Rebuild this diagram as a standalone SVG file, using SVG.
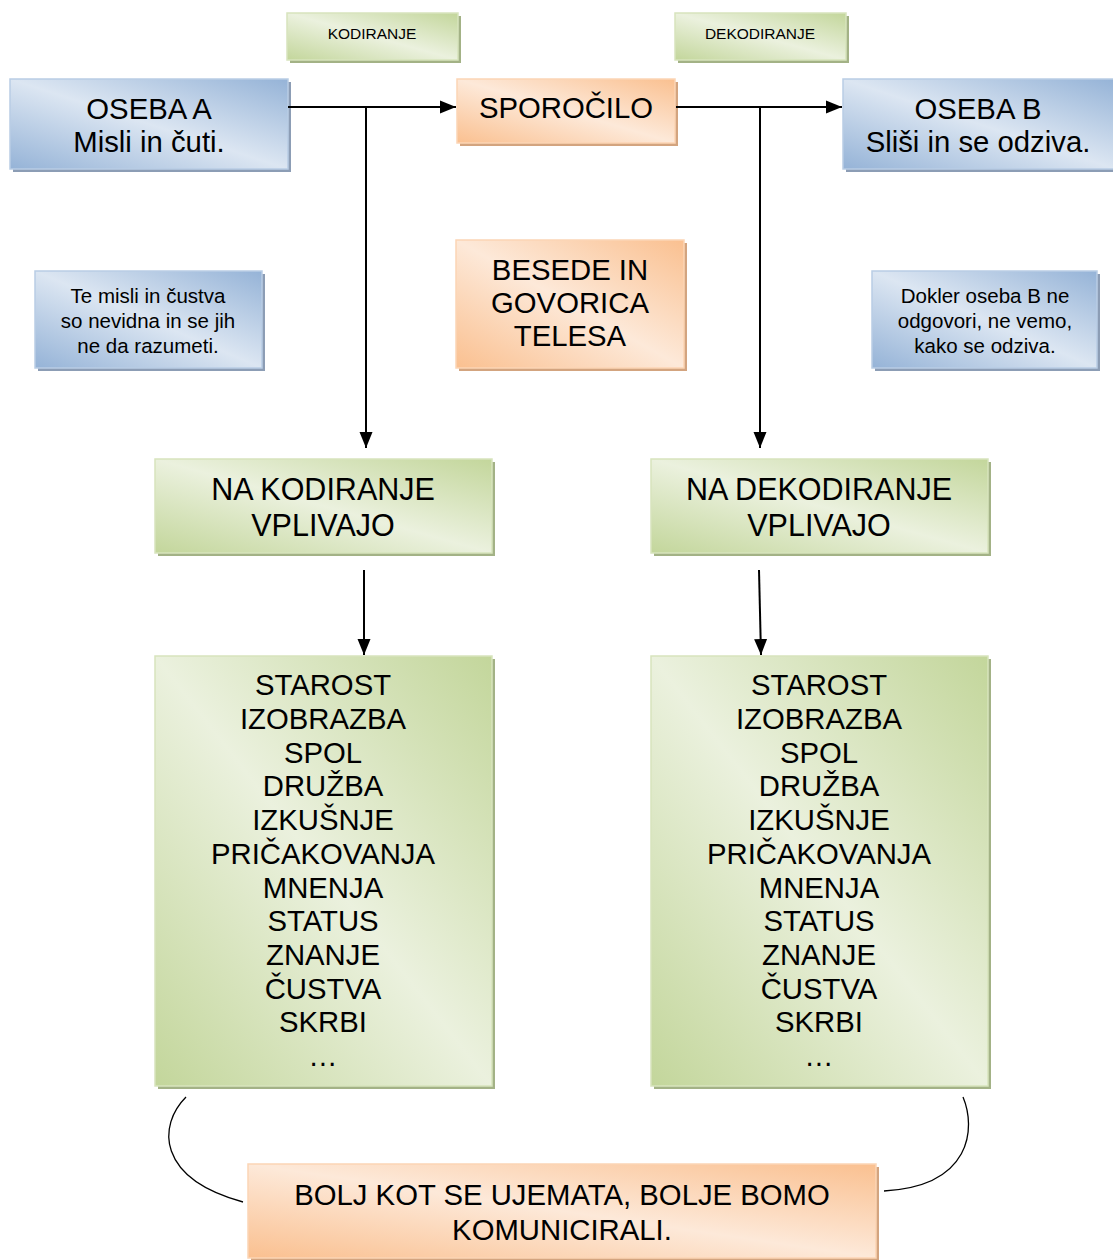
<svg xmlns="http://www.w3.org/2000/svg" width="1113" height="1260" viewBox="0 0 1113 1260">
<defs>
<linearGradient id="gBlue" x1="0" y1="1" x2="1" y2="0">
<stop offset="0" stop-color="#95b3d7"/><stop offset="0.5" stop-color="#dce6f2"/><stop offset="1" stop-color="#95b3d7"/>
</linearGradient>
<linearGradient id="gGreen" x1="0" y1="1" x2="1" y2="0">
<stop offset="0" stop-color="#c3d69b"/><stop offset="0.5" stop-color="#ebf1de"/><stop offset="1" stop-color="#c3d69b"/>
</linearGradient>
<linearGradient id="gOrange" x1="0" y1="1" x2="1" y2="0">
<stop offset="0" stop-color="#fac090"/><stop offset="0.5" stop-color="#fde9d9"/><stop offset="1" stop-color="#fac090"/>
</linearGradient>
<marker id="arrH" viewBox="0 0 16 14" refX="16" refY="7" markerWidth="16" markerHeight="14" markerUnits="userSpaceOnUse" orient="auto">
<path d="M0,0.5 L16,7 L0,13.5 z" fill="#000"/>
</marker>
</defs>
<style>
text{font-family:"Liberation Sans",Arial,sans-serif;fill:#000;text-anchor:middle}
.b{fill:url(#gBlue);stroke:#b9cde5;stroke-width:1.5}
.g{fill:url(#gGreen);stroke:#d7e4bd;stroke-width:1.5}
.o{fill:url(#gOrange);stroke:#fcd5b5;stroke-width:1.5}
.sb{fill:#8c9db5}
.sg{fill:#a3b286}
.so{fill:#d3a47f}
.t29{font-size:29.3px}
.t31{font-size:30.5px}
.t20{font-size:20.5px}
.t15{font-size:15.5px}
.ln{fill:none;stroke:#000;stroke-width:2}
.cv{fill:none;stroke:#000;stroke-width:1.3}
</style>

<g id="kodiranje">
<rect class="sg" x="290" y="16" width="171" height="47"/>
<rect class="g" x="287" y="13" width="171" height="47"/>
<text class="t15" x="372" y="39">KODIRANJE</text>
</g>
<g id="dekodiranje">
<rect class="sg" x="678" y="16" width="171" height="47"/>
<rect class="g" x="675" y="13" width="171" height="47"/>
<text class="t15" x="760" y="39">DEKODIRANJE</text>
</g>
<g id="osebaA">
<rect class="sb" x="13" y="82" width="278" height="90"/>
<rect class="b" x="10" y="79" width="278" height="90"/>
<text class="t29" x="149" y="119">OSEBA A</text>
<text class="t29" x="149" y="152">Misli in čuti.</text>
</g>
<g id="sporocilo">
<rect class="so" x="460" y="82" width="218" height="64"/>
<rect class="o" x="457" y="79" width="218" height="64"/>
<text class="t29" x="566" y="118">SPOROČILO</text>
</g>
<g id="osebaB">
<rect class="sb" x="846" y="82" width="270" height="90"/>
<rect class="b" x="843" y="79" width="272" height="90"/>
<text class="t29" x="978" y="119">OSEBA B</text>
<text class="t29" x="978" y="152">Sliši in se odziva.</text>
</g>
<g id="teMisli">
<rect class="sb" x="38" y="274" width="227" height="97"/>
<rect class="b" x="35" y="271" width="227" height="97"/>
<text class="t20" x="148" y="303">Te misli in čustva</text>
<text class="t20" x="148" y="328">so nevidna in se jih</text>
<text class="t20" x="148" y="353">ne da razumeti.</text>
</g>
<g id="besede">
<rect class="so" x="459" y="243" width="228" height="128"/>
<rect class="o" x="456" y="240" width="228" height="128"/>
<text class="t29" x="570" y="280">BESEDE IN</text>
<text class="t29" x="570" y="313">GOVORICA</text>
<text class="t29" x="570" y="346">TELESA</text>
</g>
<g id="dokler">
<rect class="sb" x="875" y="274" width="225" height="97"/>
<rect class="b" x="872" y="271" width="225" height="97"/>
<text class="t20" x="985" y="303">Dokler oseba B ne</text>
<text class="t20" x="985" y="328">odgovori, ne vemo,</text>
<text class="t20" x="985" y="353">kako se odziva.</text>
</g>
<g id="naKodiranje">
<rect class="sg" x="158" y="462" width="337" height="94"/>
<rect class="g" x="155" y="459" width="337" height="94"/>
<text class="t31" x="323" y="500">NA KODIRANJE</text>
<text class="t31" x="323" y="536">VPLIVAJO</text>
</g>
<g id="naDekodiranje">
<rect class="sg" x="654" y="462" width="337" height="94"/>
<rect class="g" x="651" y="459" width="337" height="94"/>
<text class="t31" x="819" y="500">NA DEKODIRANJE</text>
<text class="t31" x="819" y="536">VPLIVAJO</text>
</g>
<g id="listLeft">
<rect class="sg" x="158" y="659" width="337" height="430"/>
<rect class="g" x="155" y="656" width="337" height="430"/>
<g class="t29">
<text x="323" y="695">STAROST</text>
<text x="323" y="729">IZOBRAZBA</text>
<text x="323" y="763">SPOL</text>
<text x="323" y="796">DRUŽBA</text>
<text x="323" y="830">IZKUŠNJE</text>
<text x="323" y="864">PRIČAKOVANJA</text>
<text x="323" y="898">MNENJA</text>
<text x="323" y="931">STATUS</text>
<text x="323" y="965">ZNANJE</text>
<text x="323" y="999">ČUSTVA</text>
<text x="323" y="1032">SKRBI</text>
<text x="323" y="1066">…</text>
</g>
</g>
<g id="listRight">
<rect class="sg" x="654" y="659" width="337" height="430"/>
<rect class="g" x="651" y="656" width="337" height="430"/>
<g class="t29">
<text x="819" y="695">STAROST</text>
<text x="819" y="729">IZOBRAZBA</text>
<text x="819" y="763">SPOL</text>
<text x="819" y="796">DRUŽBA</text>
<text x="819" y="830">IZKUŠNJE</text>
<text x="819" y="864">PRIČAKOVANJA</text>
<text x="819" y="898">MNENJA</text>
<text x="819" y="931">STATUS</text>
<text x="819" y="965">ZNANJE</text>
<text x="819" y="999">ČUSTVA</text>
<text x="819" y="1032">SKRBI</text>
<text x="819" y="1066">…</text>
</g>
</g>
<g id="bolj">
<rect class="so" x="251" y="1167" width="628" height="96"/>
<rect class="o" x="248" y="1164" width="628" height="94"/>
<text class="t29" x="562" y="1205">BOLJ KOT SE UJEMATA, BOLJE BOMO</text>
<text class="t29" x="562" y="1240">KOMUNICIRALI.</text>
</g>

<g id="connectors">
<line class="ln" x1="288" y1="107" x2="456" y2="107" marker-end="url(#arrH)"/>
<line class="ln" x1="676" y1="107" x2="842" y2="107" marker-end="url(#arrH)"/>
<line class="ln" x1="366" y1="107" x2="366" y2="448" marker-end="url(#arrH)"/>
<line class="ln" x1="760" y1="107" x2="760" y2="448" marker-end="url(#arrH)"/>
<line class="ln" x1="364" y1="570" x2="364" y2="655" marker-end="url(#arrH)"/>
<line class="ln" x1="759" y1="570" x2="761" y2="655" marker-end="url(#arrH)"/>
<path class="cv" d="M186,1097 C158,1125 156,1178 243,1202"/>
<path class="cv" d="M963,1097 C976,1128 972,1186 884,1191"/>
</g>
</svg>
